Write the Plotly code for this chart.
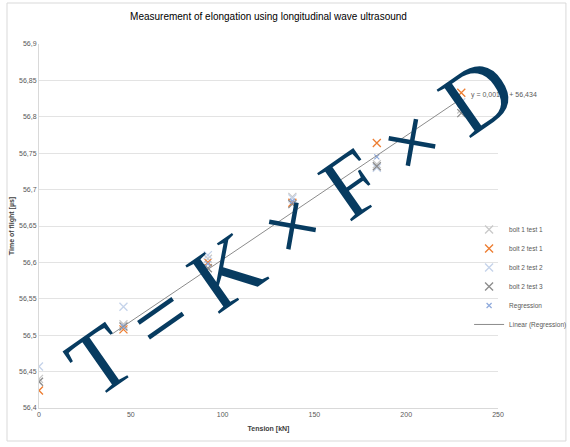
import plotly.graph_objects as go

# Tension steps [kN] and time-of-flight readings [µs]
tension = [0, 46, 92, 138, 184, 230]
bolt1_test1 = [56.440, 56.515, 56.605, 56.690, 56.735, 56.810]
bolt2_test1 = [56.424, 56.508, 56.600, 56.682, 56.764, 56.833]
bolt2_test2 = [56.457, 56.539, 56.610, 56.688, 56.730, 56.820]
bolt2_test3 = [56.436, 56.512, 56.592, 56.680, 56.732, 56.805]

regression_x = [46, 92, 138, 184, 230]
regression_y = [56.512, 56.598, 56.684, 56.745, 56.816]

# Linear trendline y = slope * x + intercept
slope = 0.0017
intercept = 56.434
trend_x = [40, 230]

y_ticks = [56.4, 56.45, 56.5, 56.55, 56.6, 56.65, 56.7, 56.75, 56.8, 56.85, 56.9]
y_tick_text = ["56,4", "56,45", "56,5", "56,55", "56,6", "56,65", "56,7", "56,75", "56,8", "56,85", "56,9"]
x_ticks = [0, 50, 100, 150, 200, 250]

FONT = "Liberation Sans, Arial"
GREY_TXT = "#595959"

fig = go.Figure()

series = [
    ("bolt 1 test 1", bolt1_test1, "#c9c9c9"),
    ("bolt 2 test 1", bolt2_test1, "#ed7d31"),
    ("bolt 2 test 2", bolt2_test2, "#c5d3ea"),
    ("bolt 2 test 3", bolt2_test3, "#8c8c8c"),
]
for name, ys, col in series:
    fig.add_trace(go.Scatter(
        x=tension, y=ys, mode="markers", name=name,
        marker=dict(symbol="x-thin-open", size=8, color=col,
                    line=dict(color=col, width=1.3)),
    ))

fig.add_trace(go.Scatter(
    x=regression_x, y=regression_y, mode="markers", name="Regression",
    marker=dict(symbol="x-thin-open", size=5, color="#8faadc",
                line=dict(color="#8faadc", width=1.2)),
))

fig.add_trace(go.Scatter(
    x=trend_x, y=[slope * v + intercept for v in trend_x], mode="lines",
    name="Linear (Regression)", line=dict(color="#8c8c8c", width=1),
))

eq_text = "y = " + f"{slope:.4f}".replace(".", ",") + "x + " + f"{intercept:.3f}".replace(".", ",")
fig.add_annotation(
    x=230, y=slope * 230 + intercept, xref="x", yref="y",
    text=eq_text, showarrow=False, xanchor="left", yanchor="middle",
    xshift=8, yshift=4, font=dict(family=FONT, size=7, color=GREY_TXT),
)

# Formula overlay drawn across the plot
fig.add_annotation(
    x=137, y=56.650, xref="x", yref="y",
    text="T = K × F × D", showarrow=False, textangle=-35,
    font=dict(family="Liberation Serif, Times New Roman, serif", size=90, color="#073b60"),
)

# Chart-area border
fig.add_shape(type="rect", xref="paper", yref="paper",
              x0=-0.0697, x1=1.148, y0=-0.0907, y1=1.1126,
              line=dict(color="#d9d9d9", width=1), fillcolor="rgba(0,0,0,0)", layer="below")

fig.update_layout(
    width=570, height=447,
    margin=dict(l=39, r=72, t=44, b=39, autoexpand=False),
    paper_bgcolor="white", plot_bgcolor="white",
    title=dict(text="Measurement of elongation using longitudinal wave ultrasound",
               x=0.5, xref="paper", xanchor="center", y=0.962, yanchor="middle",
               font=dict(family=FONT, size=10, color="#000000")),
    legend=dict(x=0.937, y=0.36, xanchor="left", yanchor="middle",
                font=dict(family=FONT, size=6.5, color=GREY_TXT),
                bgcolor="rgba(0,0,0,0)", itemwidth=30, tracegroupgap=0),
    xaxis=dict(range=[0, 250], tickvals=x_ticks, showgrid=False, zeroline=False,
               showline=True, linecolor="#d9d9d9", linewidth=1, ticks="",
               tickfont=dict(family=FONT, size=7, color=GREY_TXT),
               title=dict(text="<b>Tension [kN]</b>", standoff=8,
                          font=dict(family=FONT, size=7, color="#404040"))),
    yaxis=dict(range=[56.4, 56.9], tickvals=y_ticks, ticktext=y_tick_text,
               showgrid=True, gridcolor="#e3e3e3", gridwidth=1, zeroline=False,
               showline=True, linecolor="#d9d9d9", linewidth=1, ticks="",
               tickfont=dict(family=FONT, size=7, color=GREY_TXT),
               title=dict(text="<b>Time of flight [µs]</b>", standoff=3,
                          font=dict(family=FONT, size=7, color="#404040"))),
)

fig.write_html("out.html")
